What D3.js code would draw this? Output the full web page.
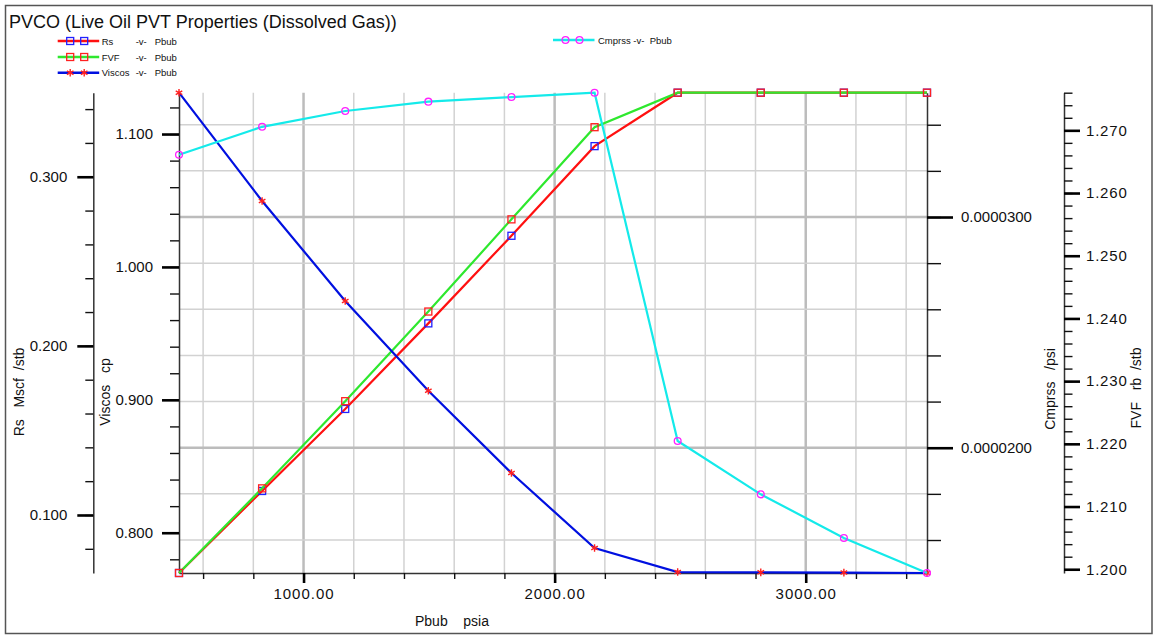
<!DOCTYPE html>
<html>
<head>
<meta charset="utf-8">
<script src="https://cdn.jsdelivr.net/npm/d3@7"></script>
<style>
	body { margin: 0; background: #fff; }
	svg { display: block; font-family: "Liberation Sans", Arial, sans-serif; }
	text { white-space: pre; }
</style>
</head>
<body>
<script>
(function () {
	"use strict";

	// values
	let pbub = [504, 835, 1166, 1497, 1828, 2159, 2490, 2821, 3152, 3483];
	let rs = [0.0657, 0.1142, 0.1627, 0.2133, 0.2651, 0.3181, 0.3497, 0.3497, 0.3497, 0.3497];
	let fvf = [1.1994, 1.2129, 1.2268, 1.2411, 1.2558, 1.2705, 1.2760, 1.2760, 1.2760, 1.2760];
	let viscos = [1.1311, 1.0496, 0.9744, 0.9068, 0.8449, 0.7885, 0.7704, 0.7702, 0.7700, 0.7697];
	let cmprss = [3.270e-5, 3.391e-5, 3.4595e-5, 3.500e-5, 3.520e-5, 3.5388e-5, 2.029e-5, 1.798e-5, 1.609e-5, 1.457e-5];

	// labelled ticks
	let xMajor = [1000, 2000, 3000];
	let rsMajor = [0.1, 0.2, 0.3];
	let viscosMajor = [0.8, 0.9, 1.0, 1.1];
	let cmprssMajor = [2e-5, 3e-5];
	let fvfMajor = [1.20, 1.21, 1.22, 1.23, 1.24, 1.25, 1.26, 1.27];

	let w = 1154, h = 635;
	let L = 179, R = 927, T = 92.7, B = 573;

	let svg = d3.select('body').append('svg').attr('width', w).attr('height', h);

	svg.append('rect')
		.attr('x', 5.5).attr('y', 5.5).attr('width', 1146.5).attr('height', 628)
		.attr('fill', 'none').attr('stroke', '#555').attr('stroke-width', 1.5);

	let x = d3.scaleLinear().domain(d3.extent(pbub)).range([L, R]);
	let yRs = d3.scaleLinear().domain(d3.extent(rs)).range([B, T]);
	let yFvf = d3.scaleLinear().domain(d3.extent(fvf)).range([B, T]);
	let yVis = d3.scaleLinear().domain(d3.extent(viscos)).range([B, T]);
	let yCmp = d3.scaleLinear().domain(d3.extent(cmprss)).range([B, T]);

	function minorTicks(scale, step) {
		let dom = scale.domain();
		let lo = Math.ceil(dom[0] / step - 1e-6), hi = Math.floor(dom[1] / step + 1e-6);
		return d3.range(lo, hi + 1).map(i => i * step);
	}

	let xMinor = minorTicks(x, 200);
	let cmpMinor = minorTicks(yCmp, 2e-6);

	// grid
	let grid = svg.append('g');
	grid.selectAll('line.v').data(xMinor).enter().append('line')
		.attr('x1', d => x(d)).attr('x2', d => x(d)).attr('y1', T).attr('y2', B)
		.attr('stroke', d => Math.abs(d % 1000) < 1 ? '#bcbcbc' : '#d2d2d2')
		.attr('stroke-width', d => Math.abs(d % 1000) < 1 ? 2.5 : 1.5);
	grid.selectAll('line.h').data(cmpMinor).enter().append('line')
		.attr('x1', L).attr('x2', R).attr('y1', d => yCmp(d)).attr('y2', d => yCmp(d))
		.attr('stroke', d => cmprssMajor.some(m => Math.abs(m - d) < 1e-9) ? '#bcbcbc' : '#d2d2d2')
		.attr('stroke-width', d => cmprssMajor.some(m => Math.abs(m - d) < 1e-9) ? 2.5 : 1.5);

	function drawAxis(axisFn, scale, pos, major, minorStep, bigSize, smallSize, pad, fmt, isX) {
		let g = svg.append('g').attr('transform', isX ? 'translate(0,' + pos + ')' : 'translate(' + pos + ',0)');
		g.call(axisFn(scale).tickValues(minorTicks(scale, minorStep)).tickSize(smallSize).tickSizeOuter(0).tickFormat(''));
		g.selectAll('.tick line').attr('stroke', '#111').attr('stroke-width', 1.4);
		g.select('.domain').attr('stroke', '#333').attr('stroke-width', 1.5);
		let g2 = svg.append('g').attr('transform', isX ? 'translate(0,' + pos + ')' : 'translate(' + pos + ',0)');
		g2.call(axisFn(scale).tickValues(major).tickSize(bigSize).tickSizeOuter(0).tickPadding(pad).tickFormat(d3.format(fmt)));
		g2.select('.domain').remove();
		g2.selectAll('.tick line').attr('stroke', '#000').attr('stroke-width', 2.6);
		g2.selectAll('.tick text')
			.attr('fill', '#111')
			.style('font-size', '15px')
			.style('font-family', '"Liberation Sans", Arial, sans-serif')
			.style('letter-spacing', isX ? '1px' : '0px');
		return g2;
	}

	drawAxis(d3.axisLeft, yRs, 93.3, rsMajor, 0.02, 16, 8, 10, '.3f', false);
	drawAxis(d3.axisLeft, yVis, L, viscosMajor, 0.02, 17, 9, 9, '.3f', false);
	drawAxis(d3.axisRight, yCmp, R, cmprssMajor, 2e-6, 26, 14, 8, '.7f', false);
	let gF = drawAxis(d3.axisRight, yFvf, 1064, fvfMajor, 0.002, 16, 8.5, 6, '.3f', false);
	gF.selectAll('.tick text').style('letter-spacing', '0.8px');
	drawAxis(d3.axisBottom, x, B, xMajor, 200, 10, 6, 5, '.2f', true);

	// axis titles
	let titleStyle = sel => sel.attr('fill', '#111').style('font-size', '14px');
	function vTitle(tx, ty, label) {
		svg.append('text')
			.attr('transform', 'translate(' + tx + ',' + ty + ') rotate(-90)')
			.attr('text-anchor', 'middle')
			.text(label)
			.call(titleStyle);
	}
	vTitle(24, 392, 'Rs   Mscf  /stb');
	vTitle(110, 392, 'Viscos   cp');
	vTitle(1055, 389, 'Cmprss   /psi');
	vTitle(1141, 388, 'FVF   rb  /stb');
	svg.append('text').attr('x', 415).attr('y', 626).text('Pbub    psia').call(titleStyle);

	svg.append('text').attr('x', 9).attr('y', 27.5)
		.attr('fill', '#111').style('font-size', '18px')
		.text('PVCO (Live Oil PVT Properties (Dissolved Gas))');

	// series
	let series = [
		{ name: 'Rs', vals: rs, y: yRs, line: '#ff1010', mark: 'square', mcol: '#2020ff' },
		{ name: 'FVF', vals: fvf, y: yFvf, line: '#2ee82e', mark: 'square', mcol: '#ff2020' },
		{ name: 'Viscos', vals: viscos, y: yVis, line: '#0010e0', mark: 'star', mcol: '#ff2020' },
		{ name: 'Cmprss', vals: cmprss, y: yCmp, line: '#14eaea', mark: 'circle', mcol: '#ff20ff' }
	];

	function marker(g, type, color, cx, cy) {
		if (type === 'square') {
			g.append('rect').attr('x', cx - 3.5).attr('y', cy - 3.5).attr('width', 7).attr('height', 7)
				.attr('fill', 'none').attr('stroke', color).attr('stroke-width', 1.3);
		} else if (type === 'circle') {
			g.append('circle').attr('cx', cx).attr('cy', cy).attr('r', 3.4)
				.attr('fill', 'none').attr('stroke', color).attr('stroke-width', 1.3);
		} else {
			g.append('path').attr('d', d3.symbol(d3.symbolAsterisk, 40)())
				.attr('transform', 'translate(' + cx + ',' + cy + ')')
				.attr('fill', 'none').attr('stroke', color).attr('stroke-width', 1.4);
		}
	}

	series.forEach(function (s) {
		let line = d3.line().x((d, i) => x(pbub[i])).y(d => s.y(d));
		let g = svg.append('g');
		g.append('path').attr('d', line(s.vals))
			.attr('fill', 'none').attr('stroke', s.line).attr('stroke-width', 2.2);
		s.vals.forEach((v, i) => marker(g, s.mark, s.mcol, x(pbub[i]), s.y(v)));
	});

	// legend
	let legendPos = [[57.7, 41], [57.7, 57], [57.7, 72.7], [553, 40]];
	series.forEach(function (s, k) {
		let lx = legendPos[k][0], ly = legendPos[k][1];
		let g = svg.append('g');
		g.append('line').attr('x1', lx).attr('x2', lx + 41.5).attr('y1', ly).attr('y2', ly)
			.attr('stroke', s.line).attr('stroke-width', 2.5);
		marker(g, s.mark, s.mcol, lx + 12.5, ly);
		marker(g, s.mark, s.mcol, lx + 26.5, ly);
		let tx = lx + 44;
		if (k < 3) {
			g.append('text').attr('x', tx).attr('y', ly + 3.5).text(s.name);
			g.append('text').attr('x', tx + 34).attr('y', ly + 3.5).text('-v-');
			g.append('text').attr('x', tx + 53).attr('y', ly + 3.5).text('Pbub');
		} else {
			g.append('text').attr('x', tx + 1).attr('y', ly + 3.5).text(s.name + ' -v-  Pbub');
		}
		g.selectAll('text').attr('fill', '#111').style('font-size', '9.5px');
	});
})();
</script>
</body>
</html>
